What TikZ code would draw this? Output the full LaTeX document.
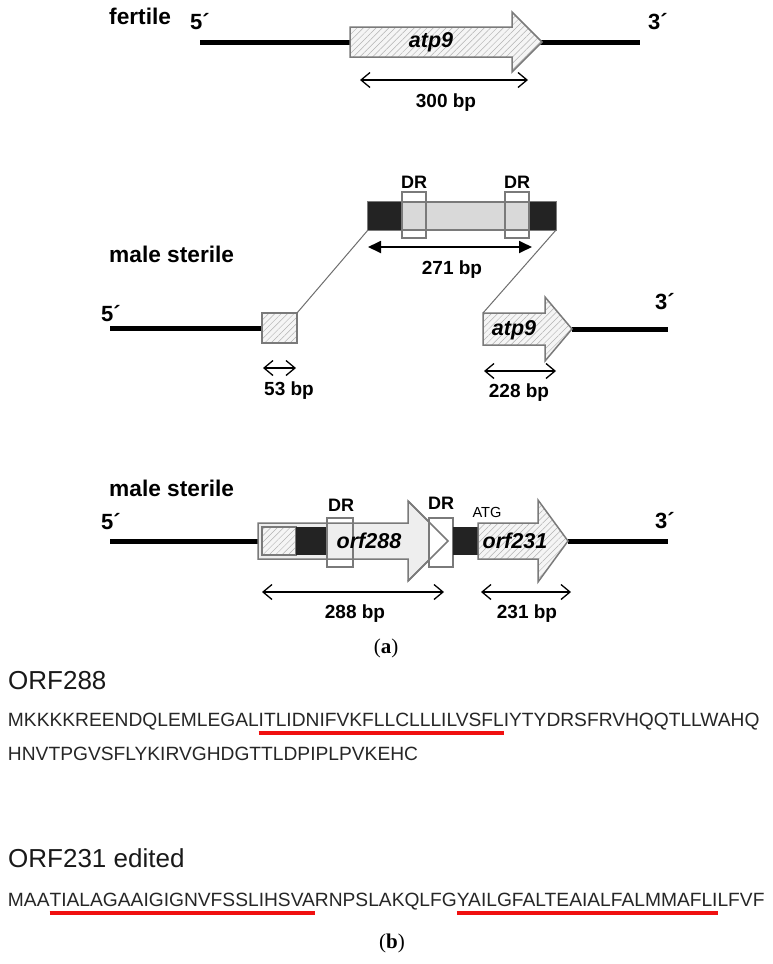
\documentclass[tikz,border=0pt]{standalone}
\usepackage{fontspec}
\setmainfont{Liberation Sans}
\newfontfamily\tagfont{Liberation Serif}
\usetikzlibrary{arrows.meta,shapes,patterns.meta}
\definecolor{edgegray}{HTML}{7A7A7A}
\definecolor{linkgray}{HTML}{6E6E6E}
\definecolor{blockgray}{HTML}{D9D9D9}
\definecolor{genegray}{HTML}{EEEEEE}
\definecolor{hatchgray}{HTML}{F5F5F5}
\definecolor{darkbox}{HTML}{232323}
\definecolor{tmred}{HTML}{F01010}
\tikzstyle{rowname}=[font=\bfseries\fontsize{22.7}{26}\selectfont, inner sep=0pt, anchor=west]
\tikzstyle{endname}=[font=\bfseries\fontsize{22}{26}\selectfont, inner sep=0pt]
\tikzstyle{genename}=[font=\bfseries\itshape\fontsize{21.5}{26}\selectfont, inner sep=0pt]
\tikzstyle{bp}=[font=\bfseries\fontsize{19}{22}\selectfont, inner sep=0pt]
\tikzstyle{drname}=[font=\bfseries\fontsize{18}{22}\selectfont, inner sep=0pt]
\tikzstyle{strand}=[draw, line width=5pt]
\tikzstyle{gene}=[draw=edgegray, line width=1.5pt, fill=genegray]
\tikzstyle{hatched}=[fill=hatchgray, postaction={pattern={Lines[angle=45,distance=4.5pt,line width=0.5pt]}, pattern color=gray!60}, postaction={draw=edgegray, line width=1.5pt}]
\tikzstyle{blockbox}=[draw=edgegray, line width=1.2pt, fill=blockgray]
\tikzstyle{darkrect}=[fill=darkbox]
\tikzstyle{drbox}=[draw=edgegray, line width=1.4pt]
\tikzstyle{link}=[draw=linkgray, line width=1pt]
\tikzstyle{span}=[draw, line width=1.3pt, {Straight Barb[length=9pt,width=15pt]}-{Straight Barb[length=9pt,width=15pt]}]
\tikzstyle{spanfull}=[draw, line width=1.8pt, {Triangle[length=13pt,width=12pt]}-{Triangle[length=13pt,width=12pt]}]
\tikzstyle{seq}=[font=\fontsize{19.2}{22}\selectfont, text=black!85, inner sep=0pt, outer sep=0pt, anchor=base west]
\tikzstyle{orfname}=[font=\fontsize{26}{30}\selectfont, text=black!90, inner sep=0pt, anchor=base west]
\tikzstyle{tm}=[draw=tmred, line width=4.5pt]
\tikzstyle{tag}=[font=\tagfont\fontsize{21}{25}\selectfont, inner sep=0pt]

\begin{document}
\begin{tikzpicture}[x=1pt,y=-1pt]
    \fill[white] (0,0) rectangle (772,964);
    \useasboundingbox (0,0) rectangle (772,964);
    % Fertile: atp9 on its own
    \node[rowname] (fertile) at (109,16) {fertile};
    \node[endname] (fer5) at (200,22) {5´};
    \node[endname] (fer3) at (658,22) {3´};
    \coordinate (ferL) at (200,42);
    \coordinate (ferR) at (640,42);
    \path[strand] (ferL) -- (ferR);
    \path[hatched] (350,27) -- (512,27) -- (512,12) -- (542,42) -- (512,72) -- (512,57) -- (350,57) -- cycle;
    \node[genename] (feratp) at (431,42) {atp9};
    \coordinate (fer300a) at (360,80);
    \coordinate (fer300b) at (528,80);
    \path[span] (fer300a) -- (fer300b);
    \node[bp] (fer300) at (446,103) {300 bp};

    % Male sterile: 271 bp insertion in front of atp9
    \node[rowname] (msA) at (109,254) {male sterile};
    \node[endname] (msA5) at (111,314) {5´};
    \node[endname] (msA3) at (665,302) {3´};
    \coordinate (msAL) at (110,328);
    \coordinate (msAM) at (262,328);
    \coordinate (msAN) at (572,329);
    \coordinate (msAR) at (668,329);
    \path[strand] (msAL) -- (msAM);
    \path[strand] (msAN) -- (msAR);
    \path[blockbox] (368,202) rectangle (556,230);
    \path[darkrect] (368,202) rectangle (401,230);
    \path[darkrect] (530,202) rectangle (556,230);
    \foreach \x/\name in {414/drA, 517/drB} {
        \path[drbox] (\x-12,192) rectangle (\x+12,238);
        \node[drname] (\name) at (\x,182) {DR};
    }
    \coordinate (blkL) at (368,230);
    \coordinate (blkR) at (556,230);
    \path[spanfull] (368,247) -- (532,247);
    \node[bp] (ins271) at (452,270) {271 bp};
    \path[hatched] (262,313) rectangle (297,343);
    \coordinate (insR) at (297,313);
    \path[hatched] (483,313) -- (545,313) -- (545,297) -- (572,329) -- (545,361) -- (545,345) -- (483,345) -- cycle;
    \coordinate (atpL) at (483,313);
    \node[genename] (msAatp) at (514,330) {atp9};
    % the two links to the insertion
    \path[link] (blkL) -- (insR);
    \path[link] (blkR) -- (atpL);
    \coordinate (ins53a) at (263,368);
    \coordinate (ins53b) at (296,368);
    \path[span] (ins53a) -- (ins53b);
    \node[bp] (ins53) at (289,391) {53 bp};
    \coordinate (atp228a) at (484,371);
    \coordinate (atp228b) at (556,371);
    \path[span] (atp228a) -- (atp228b);
    \node[bp] (atp228) at (519,393) {228 bp};

    % Male sterile: orf288 and orf231
    \node[rowname] (msB) at (109,488) {male sterile};
    \node[endname] (msB5) at (111,522) {5´};
    \node[endname] (msB3) at (665,521) {3´};
    \coordinate (msBL) at (110,541);
    \coordinate (msBM) at (258,541);
    \coordinate (msBN) at (568,541);
    \coordinate (msBR) at (668,541);
    \path[strand] (msBL) -- (msBM);
    \path[strand] (msBN) -- (msBR);
    \path[gene] (258,523) -- (408,523) -- (408,501) -- (448,541) -- (408,581) -- (408,559) -- (258,559) -- cycle;
    \path[hatched] (262,527) rectangle (296,555);
    \path[darkrect] (296,527) rectangle (328,555);
    \path[drbox] (327,518) rectangle (353,567);
    \path[drbox, fill=white] (429,518) rectangle (453,567);
    \draw[edgegray, line width=1.5pt] (408,501) -- (448,541) -- (408,581);
    \node[drname] (drC) at (341,505) {DR};
    \node[drname] (drD) at (441,503) {DR};
    \path[darkrect] (453,527) rectangle (480,555);
    \path[hatched] (478,523) -- (538,523) -- (538,500) -- (568,541) -- (538,582) -- (538,559) -- (478,559) -- cycle;
    \node[font=\fontsize{14.6}{17}\selectfont, inner sep=0pt] (atg) at (487,512) {ATG};
    \node[genename] (orfA) at (369,541) {orf288};
    \node[genename] (orfB) at (515,541) {orf231};
    \coordinate (orf288a) at (262,592);
    \coordinate (orf288b) at (444,592);
    \path[span] (orf288a) -- (orf288b);
    \node[bp] (len288) at (355,614) {288 bp};
    \coordinate (orf231a) at (481,592);
    \coordinate (orf231b) at (571,592);
    \path[span] (orf231a) -- (orf231b);
    \node[bp] (len231) at (527,614) {231 bp};
    \node[tag] (parta) at (386,648) {(\textbf{a})};

    % Protein sequences, transmembrane parts underlined
    \node[orfname] (name288) at (8,689) {ORF288};
    \node[seq] (p288a) at (8,726) {MKKKKREENDQLEMLEGAL};
    \node[seq] (p288b) at (p288a.base east) {ITLIDNIFVKFLLCLLLILVSFL};
    \node[seq] (p288c) at (p288b.base east) {IYTYDRSFRVHQQTLLWAHQ};
    \node[seq] (p288d) at (8,760) {HNVTPGVSFLYKIRVGHDGTTLDPIPLPVKEHC};
    \path[tm] ([yshift=-7pt]p288b.base west) -- ([yshift=-7pt]p288b.base east);
    \node[orfname] (name231) at (8,867) {ORF231 edited};
    \node[seq] (p231a) at (8,906) {MAA};
    \node[seq] (p231b) at (p231a.base east) {TIALAGAAIGIGNVFSSLIHSVA};
    \node[seq] (p231c) at (p231b.base east) {RNPSLAKQLFG};
    \node[seq] (p231d) at (p231c.base east) {YAILGFALTEAIALFALMMAFLI};
    \node[seq] (p231e) at (p231d.base east) {LFVF};
    \foreach \part in {p231b, p231d}
        \path[tm] ([yshift=-7pt]\part.base west) -- ([yshift=-7pt]\part.base east);
    \node[tag] (partb) at (392,943) {(\textbf{b})};
\end{tikzpicture}
\end{document}
